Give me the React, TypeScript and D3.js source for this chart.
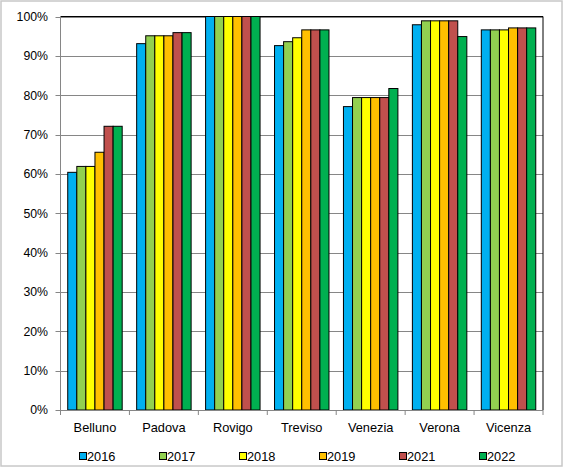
import React from "react"
import * as d3 from "d3"

const categories = ["Belluno", "Padova", "Rovigo", "Treviso", "Venezia", "Verona", "Vicenza"]
const years = ["2016", "2017", "2018", "2019", "2021", "2022"]
const colors = ["#00B0F0", "#92D050", "#FFFF00", "#FFC000", "#C0504D", "#00B050"]

// values in %, one array per year, in category order
const v2016 = [60.4, 93.1, 100, 92.6, 77.1, 97.9, 96.6]
const v2017 = [61.9, 95.1, 100, 93.6, 79.4, 98.9, 96.6]
const v2018 = [61.9, 95.1, 100, 94.6, 79.4, 98.9, 96.6]
const v2019 = [65.5, 95.1, 100, 96.6, 79.4, 98.9, 97.1]
const v2021 = [72.1, 95.9, 100, 96.6, 79.4, 98.9, 97.1]
const v2022 = [72.1, 95.9, 100, 96.6, 81.7, 94.9, 97.1]
const series = [v2016, v2017, v2018, v2019, v2021, v2022]
const yTicks = [0, 10, 20, 30, 40, 50, 60, 70, 80, 90, 100]

export default function App() {
  const width = 565
  const height = 470
  const margin = { top: 16.5, right: 22, bottom: 60, left: 60.5 }
  const plotRight = width - margin.right
  const plotBottom = height - margin.bottom

  const x0 = d3.scaleBand<string>().domain(categories).range([margin.left, plotRight]).padding(0)
  const bw = x0.bandwidth()
  const gap = bw * 0.105
  const x1 = d3.scaleBand<string>().domain(years).range([gap, bw - gap]).padding(0)
  const y = d3.scaleLinear().domain([0, 100]).range([plotBottom, margin.top])

  const font = "Arial, 'Liberation Sans', sans-serif"
  const legendX = d3.scalePoint<string>().domain(years).range([79, 479])

  return (
    <svg width={width} height={height} style={{ position: "absolute", left: 0, top: 0 }} fontFamily={font}>
      <rect x={0} y={0} width={width} height={height} fill="#fff" />
      <rect x={1} y={1} width={561} height={465} fill="none" stroke="#c8c8c8" strokeWidth={1.5} />

      {/* gridlines */}
      {yTicks.map((t) => (
        <line key={"g" + t} x1={margin.left} x2={plotRight} y1={Math.round(y(t)) + 0.5} y2={Math.round(y(t)) + 0.5} stroke="#868686" strokeWidth={1} />
      ))}

      {/* plot border */}
      <line x1={margin.left} x2={plotRight} y1={margin.top} y2={margin.top} stroke="#000" />
      <line x1={plotRight} x2={plotRight} y1={margin.top} y2={plotBottom} stroke="#000" />

      {/* bars */}
      {categories.map((c, ci) => (
        <g key={c} transform={`translate(${x0(c)},0)`}>
          {years.map((yr, si) => (
            <rect
              key={yr}
              x={x1(yr)}
              y={y(series[si][ci])}
              width={x1.bandwidth()}
              height={plotBottom - y(series[si][ci])}
              fill={colors[si]}
              stroke="#000"
              strokeWidth={1}
            />
          ))}
        </g>
      ))}

      {/* axes */}
      <line x1={margin.left} x2={margin.left} y1={margin.top} y2={plotBottom} stroke="#868686" />
      <line x1={margin.left} x2={plotRight} y1={Math.round(plotBottom) + 0.5} y2={Math.round(plotBottom) + 0.5} stroke="#868686" />
      {yTicks.map((t) => (
        <g key={"t" + t}>
          <line x1={margin.left - 5} x2={margin.left} y1={Math.round(y(t)) + 0.5} y2={Math.round(y(t)) + 0.5} stroke="#868686" />
          <text x={48} y={y(t)} dy="0.35em" textAnchor="end" fontSize={12.3} fill="#000">
            {t + "%"}
          </text>
        </g>
      ))}
      {[...categories.map((c) => x0(c) as number), plotRight].map((xv, i) => (
        <line key={"xt" + i} x1={xv} x2={xv} y1={plotBottom} y2={plotBottom + 5} stroke="#868686" />
      ))}
      {categories.map((c) => (
        <text key={"l" + c} x={(x0(c) as number) + bw / 2} y={432} textAnchor="middle" fontSize={12.8} fill="#000">
          {c}
        </text>
      ))}

      {/* legend */}
      {years.map((yr, i) => (
        <g key={"lg" + yr} transform={`translate(${legendX(yr)},0)`}>
          <rect x={0.5} y={452.5} width={7} height={7} fill={colors[i]} stroke="#000" />
          <text x={8} y={461} fontSize={12.8} fill="#000">
            {yr}
          </text>
        </g>
      ))}
    </svg>
  )
}
